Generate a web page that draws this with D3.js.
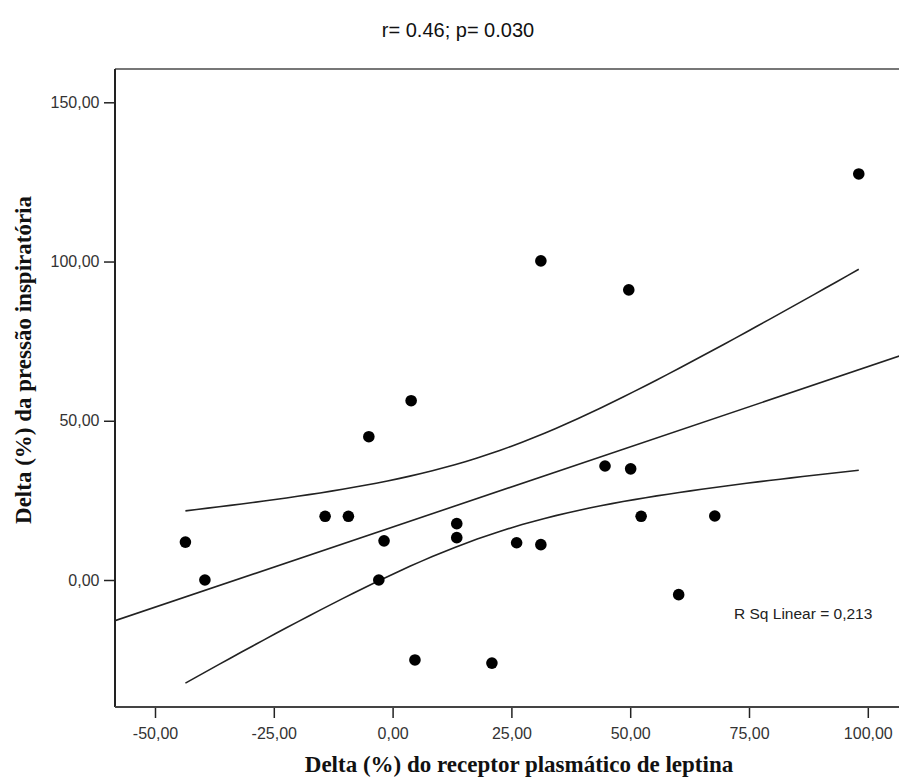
<!DOCTYPE html>
<html>
<head>
<meta charset="utf-8">
<script src="https://cdn.jsdelivr.net/npm/d3@7"></script>
<style>
  body { margin: 0; background: #fff; }
</style>
</head>
<body>
<div id="chart"></div>
<script>
// values
var leptinDelta = [98.1, 31.2, 49.7, 3.9, -5.0, -14.2, -9.3, -43.6, -39.5, -1.8, -2.9,
                   13.5, 13.5, 26.1, 31.2, 44.7, 50.1, 52.3, 67.8, 60.2, 4.7, 20.9];
var pressureDelta = [127.5, 100.2, 91.1, 56.3, 45.0, 20.0, 20.0, 11.9, 0.0, 12.3, 0.0,
                     17.7, 13.3, 11.7, 11.1, 35.8, 34.9, 20.0, 20.1, -4.6, -25.1, -26.1];
var xTicks = [-50, -25, 0, 25, 50, 75, 100];
var yTicks = [0, 50, 100, 150];

var titleText = "r= 0.46; p= 0.030";
var xTitle = "Delta (%) do receptor plasmático de leptina";
var yTitle = "Delta (%) da pressão inspiratória";
var rsqText = "R Sq Linear = 0,213";

var width = 899, height = 783;
var frame = { left: 115, top: 69, right: 915, bottom: 707 };
var tConf = 1.725; // t for the mean interval band, df = n - 2

var locale = d3.formatLocale({ decimal: ",", thousands: ".", grouping: [3], currency: ["", ""], minus: "-" });
var fmt = locale.format(".2f");

var svg = d3.select("#chart")
  .append("svg")
  .attr("width", width)
  .attr("height", height);

var x = d3.scaleLinear().domain([-50, 100]).range([155, 867.8]);
var y = d3.scaleLinear().domain([0, 150]).range([580, 102.3]);

var data = leptinDelta.map((v, i) => ({ x: v, y: pressureDelta[i] }));

// least squares fit
var n = data.length;
var mx = d3.mean(data, d => d.x);
var my = d3.mean(data, d => d.y);
var sxx = d3.sum(data, d => (d.x - mx) * (d.x - mx));
var sxy = d3.sum(data, d => (d.x - mx) * (d.y - my));
var syy = d3.sum(data, d => (d.y - my) * (d.y - my));
var slope = sxy / sxx;
var icpt = my - slope * mx;
var s = Math.sqrt((syy - slope * sxy) / (n - 2));
var fit = v => icpt + slope * v;
var half = v => tConf * s * Math.sqrt(1 / n + (v - mx) * (v - mx) / sxx);

svg.append("defs").append("clipPath").attr("id", "plotclip")
  .append("rect")
  .attr("x", frame.left).attr("y", frame.top)
  .attr("width", frame.right - frame.left).attr("height", frame.bottom - frame.top);

// title
svg.append("text")
  .attr("x", 458)
  .attr("y", 37)
  .attr("text-anchor", "middle")
  .style("font-family", "'Liberation Sans', Arial, sans-serif")
  .style("font-size", "20px")
  .style("fill", "#111")
  .text(titleText);

// frame
svg.append("line")
  .attr("x1", frame.left).attr("x2", frame.right)
  .attr("y1", frame.top).attr("y2", frame.top)
  .attr("stroke", "#777").attr("stroke-width", 2);

// axes
var xAxis = svg.append("g")
  .attr("transform", "translate(0," + frame.bottom + ")")
  .call(d3.axisBottom(x).tickValues(xTicks).tickSize(11).tickPadding(9.5).tickFormat(fmt));
var yAxis = svg.append("g")
  .attr("transform", "translate(" + frame.left + ",0)")
  .call(d3.axisLeft(y).tickValues(yTicks).tickSize(11).tickPadding(4.5).tickFormat(fmt));

[xAxis, yAxis].forEach(g => {
  g.select(".domain").remove();
  g.selectAll(".tick line").attr("stroke", "#222").attr("stroke-width", 1.5);
  g.selectAll(".tick text")
    .style("font-family", "'Liberation Sans', Arial, sans-serif")
    .style("font-size", "16px")
    .style("fill", "#333");
});

svg.append("line")
  .attr("x1", frame.left).attr("x2", frame.left)
  .attr("y1", frame.top).attr("y2", frame.bottom)
  .attr("stroke", "#222").attr("stroke-width", 2);
svg.append("line")
  .attr("x1", frame.left).attr("x2", frame.right)
  .attr("y1", frame.bottom).attr("y2", frame.bottom)
  .attr("stroke", "#444").attr("stroke-width", 2);

var plot = svg.append("g").attr("clip-path", "url(#plotclip)");

// fit line across the whole frame
var x0 = x.invert(frame.left), x1 = x.invert(frame.right);
plot.append("line")
  .attr("x1", x(x0)).attr("y1", y(fit(x0)))
  .attr("x2", x(x1)).attr("y2", y(fit(x1)))
  .attr("stroke", "#222").attr("stroke-width", 1.6);

// mean confidence band, over the range of the data
var xs = d3.range(0, 61).map(i => d3.min(leptinDelta) + i * (d3.max(leptinDelta) - d3.min(leptinDelta)) / 60);
var band = d3.line().x(d => x(d[0])).y(d => y(d[1]));
plot.append("path")
  .attr("d", band(xs.map(v => [v, fit(v) + half(v)])))
  .attr("fill", "none").attr("stroke", "#222").attr("stroke-width", 1.6);
plot.append("path")
  .attr("d", band(xs.map(v => [v, fit(v) - half(v)])))
  .attr("fill", "none").attr("stroke", "#222").attr("stroke-width", 1.6);

// points
plot.selectAll("circle")
  .data(data)
  .enter()
  .append("circle")
  .attr("cx", d => x(d.x))
  .attr("cy", d => y(d.y))
  .attr("r", 5.8)
  .attr("fill", "#000");

svg.append("text")
  .attr("x", 734)
  .attr("y", 619)
  .style("font-family", "'Liberation Sans', Arial, sans-serif")
  .style("font-size", "15.5px")
  .style("fill", "#222")
  .text(rsqText);

// axis titles
svg.append("text")
  .attr("x", 519)
  .attr("y", 772)
  .attr("text-anchor", "middle")
  .style("font-family", "'Liberation Serif', 'Times New Roman', serif")
  .style("font-weight", "bold")
  .style("font-size", "23px")
  .style("fill", "#111")
  .text(xTitle);

svg.append("text")
  .attr("transform", "translate(31,360) rotate(-90)")
  .attr("text-anchor", "middle")
  .style("font-family", "'Liberation Serif', 'Times New Roman', serif")
  .style("font-weight", "bold")
  .style("font-size", "23px")
  .style("fill", "#111")
  .text(yTitle);
</script>
</body>
</html>
